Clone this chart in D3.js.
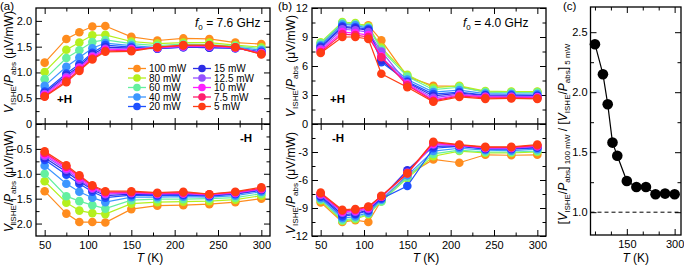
<!DOCTYPE html>
<html><head><meta charset="utf-8">
<script src="https://cdn.jsdelivr.net/npm/d3@7"></script>
<style>body{margin:0;background:#fff}</style>
</head><body><svg id="c" width="684" height="268" xmlns="http://www.w3.org/2000/svg"></svg>
<script>
// ---------------- DATA ----------------
const temps = [50, 75, 90, 105, 120, 150, 180, 210, 240, 270, 300];
const powers = ["100 mW", "80 mW", "60 mW", "40 mW", "20 mW", "15 mW", "12.5 mW", "10 mW", "7.5 mW", "5 mW"];
const colors = ["#ff8c1e", "#b4f01e", "#64f0a0", "#3c96ff", "#1e50ff", "#2d2de6", "#9650ff", "#ff1eff", "#ff1e6e", "#ff3c14"];

// (a) f0 = 7.6 GHz, +H  (one row per power, one value per temperature)
const a76PlusH = [
  [1.19, 1.65, 1.78, 1.89, 1.90, 1.69, 1.62, 1.66, 1.65, 1.58, 1.55],
  [1.01, 1.44, 1.58, 1.72, 1.73, 1.60, 1.56, 1.58, 1.58, 1.53, 1.49],
  [0.87, 1.28, 1.43, 1.59, 1.63, 1.56, 1.52, 1.55, 1.54, 1.51, 1.46],
  [0.74, 1.11, 1.29, 1.47, 1.57, 1.52, 1.48, 1.50, 1.50, 1.49, 1.43],
  [0.63, 0.98, 1.16, 1.38, 1.53, 1.49, 1.46, 1.49, 1.48, 1.47, 1.40],
  [0.60, 0.94, 1.12, 1.35, 1.49, 1.47, 1.46, 1.49, 1.48, 1.47, 1.39],
  [0.58, 0.91, 1.10, 1.32, 1.46, 1.46, 1.47, 1.50, 1.50, 1.48, 1.38],
  [0.56, 0.88, 1.08, 1.30, 1.44, 1.45, 1.48, 1.51, 1.51, 1.48, 1.37],
  [0.54, 0.84, 1.05, 1.27, 1.42, 1.43, 1.49, 1.52, 1.52, 1.49, 1.36],
  [0.53, 0.81, 1.03, 1.25, 1.40, 1.41, 1.49, 1.53, 1.53, 1.49, 1.35]
];
// (a) f0 = 7.6 GHz, -H
const a76MinusH = [
  [-1.35, -1.80, -1.97, -1.97, -1.98, -1.71, -1.64, -1.63, -1.61, -1.57, -1.50],
  [-1.15, -1.58, -1.74, -1.79, -1.81, -1.60, -1.57, -1.56, -1.55, -1.52, -1.44],
  [-1.00, -1.45, -1.55, -1.63, -1.70, -1.53, -1.51, -1.51, -1.50, -1.48, -1.40],
  [-0.84, -1.20, -1.36, -1.48, -1.57, -1.47, -1.47, -1.46, -1.47, -1.44, -1.36],
  [-0.72, -1.02, -1.20, -1.36, -1.48, -1.43, -1.44, -1.43, -1.45, -1.41, -1.33],
  [-0.68, -0.96, -1.15, -1.32, -1.44, -1.41, -1.42, -1.41, -1.44, -1.40, -1.32],
  [-0.64, -0.92, -1.12, -1.30, -1.41, -1.39, -1.41, -1.40, -1.43, -1.39, -1.31],
  [-0.61, -0.89, -1.08, -1.28, -1.39, -1.38, -1.40, -1.39, -1.42, -1.38, -1.30],
  [-0.58, -0.86, -1.05, -1.25, -1.37, -1.37, -1.39, -1.38, -1.41, -1.37, -1.29],
  [-0.55, -0.83, -1.03, -1.23, -1.35, -1.35, -1.38, -1.36, -1.41, -1.36, -1.27]
];
// (b) f0 = 4.0 GHz, +H
const b40PlusH = [
  [8.20, 10.40, 10.30, 10.20, 8.65, 4.90, 3.95, 3.90, 3.30, 3.30, 3.30],
  [8.45, 10.55, 10.45, 10.10, 7.90, 5.10, 3.75, 3.95, 3.40, 3.35, 3.35],
  [8.35, 10.45, 10.35, 10.00, 7.70, 4.90, 3.55, 3.80, 3.30, 3.25, 3.25],
  [8.15, 10.30, 10.20, 9.90, 6.80, 4.60, 3.30, 3.50, 3.15, 3.10, 3.10],
  [8.00, 10.10, 10.00, 9.80, 6.40, 4.40, 3.10, 3.30, 3.00, 3.00, 2.95],
  [7.90, 10.00, 9.90, 9.70, 6.60, 4.30, 2.90, 3.20, 2.95, 2.90, 2.90],
  [7.75, 9.80, 9.70, 9.50, 7.50, 4.20, 2.70, 3.10, 2.85, 2.85, 2.80],
  [7.60, 9.50, 9.40, 9.20, 7.00, 4.10, 2.50, 3.00, 2.80, 2.75, 2.75],
  [7.45, 9.30, 9.20, 9.00, 6.90, 4.00, 2.40, 2.90, 2.70, 2.70, 2.65],
  [7.35, 9.00, 9.00, 8.80, 5.20, 3.80, 2.30, 2.80, 2.60, 2.65, 2.60]
];
// (b) f0 = 4.0 GHz, -H
const b40MinusH = [
  [-8.40, -10.50, -10.30, -10.50, -8.20, -5.50, -3.80, -4.15, -3.30, -3.35, -3.30],
  [-8.20, -10.40, -10.20, -9.70, -8.30, -5.80, -3.45, -2.90, -3.10, -3.10, -3.00],
  [-8.10, -10.30, -10.10, -9.60, -8.30, -5.70, -3.20, -2.80, -3.00, -3.00, -2.90],
  [-7.95, -10.10, -9.90, -9.50, -8.10, -5.50, -2.90, -2.60, -2.80, -2.85, -2.70],
  [-7.80, -9.90, -9.70, -9.30, -8.00, -6.65, -2.60, -2.40, -2.70, -2.70, -2.55],
  [-7.70, -9.70, -9.60, -9.20, -7.90, -4.95, -2.40, -2.35, -2.65, -2.65, -2.50],
  [-7.60, -9.50, -9.40, -9.10, -7.80, -5.20, -2.20, -2.30, -2.60, -2.60, -2.40],
  [-7.50, -9.40, -9.30, -9.00, -7.80, -5.30, -2.10, -2.30, -2.55, -2.55, -2.35],
  [-7.45, -9.30, -9.20, -8.90, -7.75, -5.25, -2.00, -2.25, -2.50, -2.50, -2.30],
  [-7.35, -9.20, -9.10, -8.85, -7.70, -5.30, -1.90, -2.20, -2.45, -2.45, -2.20]
];
// (c) ratio [V/P]_100mW / [V/P]_5mW
const ratio = [2.40, 2.15, 1.90, 1.58, 1.47, 1.26, 1.21, 1.21, 1.15, 1.155, 1.15];

const xMajor = [50, 100, 150, 200, 250, 300];
const xMinor = [75, 125, 175, 225, 275];
const aTopTicks = [0, 0.5, 1.0, 1.5, 2.0];
const aTopMinor = [0.25, 0.75, 1.25, 1.75];
const aBotTicks = [-0.5, -1.0, -1.5, -2.0];
const aBotMinor = [-0.25, -0.75, -1.25, -1.75];
const bTopTicks = [0, 3, 6, 9, 12];
const bTopMinor = [1.5, 4.5, 7.5, 10.5];
const bBotTicks = [-3, -6, -9, -12];
const bBotMinor = [-1.5, -4.5, -7.5, -10.5];
const cXMajor = [150, 300];
const cXMinor = [50, 100, 200, 250];
const cYTicks = [1.0, 1.5, 2.0, 2.5];
const cYMinor = [1.25, 1.75, 2.25];

// ---------------- DRAWING ----------------
const FONT = '"Liberation Sans", Arial, Helvetica, sans-serif';
const svg = d3.select("#c");
const root = svg.append("g").attr("font-family", FONT);

function rich(g, x, y, parts, size, opts = {}) {
  const t = g.append("text").attr("x", x).attr("y", y).attr("font-size", size)
    .attr("font-family", FONT).attr("fill", "#000");
  if (opts.rotate) t.attr("transform", `rotate(-90 ${x} ${y})`);
  if (opts.anchor) t.attr("text-anchor", opts.anchor);
  if (opts.bold) t.attr("font-weight", "bold");
  let shift = 0;
  parts.forEach(p => {
    const s = t.append("tspan").text(p.t);
    const target = p.sub ? (opts.subShift || size * 0.3) : 0;
    if (target !== shift) { s.attr("dy", target - shift); shift = target; }
    if (p.sub) s.attr("font-size", opts.subSize || size * 0.66);
    if (p.i) s.attr("font-style", "italic");
  });
  return t;
}

function tickAxis(g, axisGen, scale, values, size, labels, pad) {
  const ax = axisGen(scale).tickValues(values).tickSize(size).tickPadding(pad || 4)
    .tickFormat(labels ? labels : () => "");
  g.call(ax);
  g.select(".domain").remove();
  g.attr("font-family", FONT).attr("font-size", 11);
  g.selectAll("line").attr("stroke", "#000").attr("stroke-width", 1);
  g.selectAll("text").attr("fill", "#000");
  return g;
}

const fmtA = d => d === 0 ? "0" : d3.format(".1f")(d);
const fmtB = d => String(d);

const yTop = 8, yMid = 124, yBot = 236;

function powerPanel(cfg) {
  const g = root.append("g");
  const x = d3.scaleLinear().domain([40, 310]).range([cfg.x0, cfg.x1]);
  const yT = d3.scaleLinear().domain(cfg.topDom).range([yMid, yTop]);
  const yB = d3.scaleLinear().domain(cfg.botDom).range([yBot, yMid]);

  // x ticks: bottom, top, middle (both directions)
  tickAxis(g.append("g").attr("transform", `translate(0,${yBot})`), d3.axisBottom, x, xMajor, -6, d => d, 5);
  tickAxis(g.append("g").attr("transform", `translate(0,${yBot})`), d3.axisBottom, x, xMinor, -3.5);
  tickAxis(g.append("g").attr("transform", `translate(0,${yTop})`), d3.axisTop, x, xMajor, -6);
  tickAxis(g.append("g").attr("transform", `translate(0,${yTop})`), d3.axisTop, x, xMinor, -3.5);
  tickAxis(g.append("g").attr("transform", `translate(0,${yMid})`), d3.axisBottom, x, xMajor, -6);
  tickAxis(g.append("g").attr("transform", `translate(0,${yMid})`), d3.axisBottom, x, xMinor, -3.5);
  tickAxis(g.append("g").attr("transform", `translate(0,${yMid})`), d3.axisTop, x, xMajor, -6);
  tickAxis(g.append("g").attr("transform", `translate(0,${yMid})`), d3.axisTop, x, xMinor, -3.5);

  // y ticks
  [[yT, cfg.topTicks, cfg.topMinor], [yB, cfg.botTicks, cfg.botMinor]].forEach(([ys, maj, mn]) => {
    tickAxis(g.append("g").attr("transform", `translate(${cfg.x0},0)`), d3.axisLeft, ys, maj, -6, cfg.fmt, 4);
    tickAxis(g.append("g").attr("transform", `translate(${cfg.x0},0)`), d3.axisLeft, ys, mn, -3.5);
    tickAxis(g.append("g").attr("transform", `translate(${cfg.x1},0)`), d3.axisRight, ys, maj, -6);
    tickAxis(g.append("g").attr("transform", `translate(${cfg.x1},0)`), d3.axisRight, ys, mn, -3.5);
  });

  // data
  const clipId = "clip" + cfg.id;
  svg.append("defs").append("clipPath").attr("id", clipId).append("rect")
    .attr("x", cfg.x0).attr("y", yTop).attr("width", cfg.x1 - cfg.x0).attr("height", yBot - yTop);
  const dg = g.append("g").attr("clip-path", `url(#${clipId})`);
  [[cfg.top, yT], [cfg.bot, yB]].forEach(([series, ys]) => {
    series.forEach((vals, i) => {
      const pts = vals.map((v, j) => [temps[j], v]);
      const sg = dg.append("g");
      sg.append("path").datum(pts)
        .attr("d", d3.line().x(d => x(d[0])).y(d => ys(d[1])))
        .attr("fill", "none").attr("stroke", colors[i]).attr("stroke-width", 1.2);
      sg.selectAll("circle").data(pts).join("circle")
        .attr("cx", d => x(d[0])).attr("cy", d => ys(d[1])).attr("r", 4.3)
        .attr("fill", colors[i]);
    });
  });

  // frame
  g.append("rect").attr("x", cfg.x0).attr("y", yTop).attr("width", cfg.x1 - cfg.x0)
    .attr("height", yBot - yTop).attr("fill", "none").attr("stroke", "#000").attr("stroke-width", 1.3);
  g.append("line").attr("x1", cfg.x0).attr("x2", cfg.x1).attr("y1", yMid).attr("y2", yMid)
    .attr("stroke", "#000").attr("stroke-width", 1.3);

  // labels
  const yl = [{t: "V", i: true}, {t: "ISHE", sub: true}, {t: "/"}, {t: "P", i: true}, {t: "abs", sub: true}, {t: " (μV/mW)"}];
  rich(g, cfg.ylx, cfg.yl1, yl, 12, {rotate: true, anchor: "middle", subSize: 8, subShift: 3});
  rich(g, cfg.ylx, cfg.yl2, yl, 12, {rotate: true, anchor: "middle", subSize: 8, subShift: 3});
  rich(g, (cfg.x0 + cfg.x1) / 2 - 3, 262, [{t: "T", i: true}, {t: " (K)"}], 12, {anchor: "middle"});
  rich(g, cfg.fx, 27, [{t: "f", i: true}, {t: "0", sub: true}, {t: " = " + cfg.freq}], 12, {subSize: 8, subShift: 3});
  rich(g, cfg.phx, 103, [{t: "+H"}], 11.5, {bold: true});
  rich(g, cfg.mhx, 142, [{t: "-H"}], 11.5, {bold: true});
  rich(g, cfg.px, 10, [{t: cfg.tag}], 11.5);
  return {g, x, yT, yB};
}

const A = powerPanel({id: "a", x0: 36, x1: 270, topDom: [0, 2.25], botDom: [-2.25, 0],
  topTicks: aTopTicks, topMinor: aTopMinor, botTicks: aBotTicks, botMinor: aBotMinor, fmt: fmtA,
  top: a76PlusH, bot: a76MinusH, ylx: 12.5, yl1: 62, yl2: 181, fx: 195, freq: "7.6 GHz",
  phx: 57, mhx: 240, px: 0, tag: "(a)"});
const B = powerPanel({id: "b", x0: 312, x1: 546, topDom: [0, 12], botDom: [-12, 0],
  topTicks: bTopTicks, topMinor: bTopMinor, botTicks: bBotTicks, botMinor: bBotMinor, fmt: fmtB,
  top: b40PlusH, bot: b40MinusH, ylx: 294.5, yl1: 66, yl2: 183, fx: 463, freq: "4.0 GHz",
  phx: 330, mhx: 332, px: 278, tag: "(b)"});

// legend in panel (a)
const leg = A.g.append("g");
powers.forEach((p, i) => {
  const col = i < 5 ? 0 : 1, row = i % 5;
  const mx = col === 0 ? 137 : 202, tx = col === 0 ? 149 : 214;
  const ry = 68.5 + row * 9.5;
  leg.append("line").attr("x1", mx - 9).attr("x2", mx + 9).attr("y1", ry).attr("y2", ry)
    .attr("stroke", colors[i]).attr("stroke-width", 1.3);
  leg.append("circle").attr("cx", mx).attr("cy", ry).attr("r", 3.8).attr("fill", colors[i]);
  leg.append("text").attr("x", tx).attr("y", ry + 3.6).attr("font-size", 10)
    .attr("font-family", FONT).attr("fill", "#000").text(p);
});

// panel (c)
(function () {
  const g = root.append("g");
  const x0 = 590.5, x1 = 681, t0 = 7, b0 = 235;
  const x = d3.scaleLinear().domain([36, 320]).range([x0, x1]);
  const y = d3.scaleLinear().domain([0.81, 2.71]).range([b0, t0]);
  tickAxis(g.append("g").attr("transform", `translate(0,${b0})`), d3.axisBottom, x, cXMajor, -6, d => d, 5);
  tickAxis(g.append("g").attr("transform", `translate(0,${b0})`), d3.axisBottom, x, cXMinor, -3.5);
  tickAxis(g.append("g").attr("transform", `translate(0,${t0})`), d3.axisTop, x, cXMajor, -6);
  tickAxis(g.append("g").attr("transform", `translate(0,${t0})`), d3.axisTop, x, cXMinor, -3.5);
  tickAxis(g.append("g").attr("transform", `translate(${x0},0)`), d3.axisLeft, y, cYTicks, -6, d3.format(".1f"), 3);
  tickAxis(g.append("g").attr("transform", `translate(${x0},0)`), d3.axisLeft, y, cYMinor, -3.5);
  tickAxis(g.append("g").attr("transform", `translate(${x1},0)`), d3.axisRight, y, cYTicks, -6);
  tickAxis(g.append("g").attr("transform", `translate(${x1},0)`), d3.axisRight, y, cYMinor, -3.5);

  g.append("line").attr("x1", x0).attr("x2", x1).attr("y1", y(1)).attr("y2", y(1))
    .attr("stroke", "#000").attr("stroke-width", 1).attr("stroke-dasharray", "4,3");
  const pts = ratio.map((v, j) => [temps[j], v]);
  g.append("path").datum(pts).attr("d", d3.line().x(d => x(d[0])).y(d => y(d[1])))
    .attr("fill", "none").attr("stroke", "#000").attr("stroke-width", 1.2);
  g.selectAll("circle.pt").data(pts).join("circle").attr("class", "pt")
    .attr("cx", d => x(d[0])).attr("cy", d => y(d[1])).attr("r", 5.3).attr("fill", "#000");
  g.append("rect").attr("x", x0).attr("y", t0).attr("width", x1 - x0).attr("height", b0 - t0)
    .attr("fill", "none").attr("stroke", "#000").attr("stroke-width", 1.3);

  rich(g, (x0 + x1) / 2, 262, [{t: "T", i: true}, {t: " (K)"}], 12, {anchor: "middle"});
  rich(g, 567, 134, [
    {t: "["}, {t: "V", i: true}, {t: "ISHE", sub: true}, {t: "/"}, {t: "P", i: true}, {t: "abs", sub: true},
    {t: "]"}, {t: " 100 mW", sub: true}, {t: " / ["}, {t: "V", i: true}, {t: "ISHE", sub: true}, {t: "/"},
    {t: "P", i: true}, {t: "abs", sub: true}, {t: "]"}, {t: " 5 mW", sub: true}
  ], 12, {rotate: true, anchor: "middle", subSize: 8, subShift: 2.5});
  rich(g, 563, 10, [{t: "(c)"}], 11.5);
})();
</script>
</body></html>
